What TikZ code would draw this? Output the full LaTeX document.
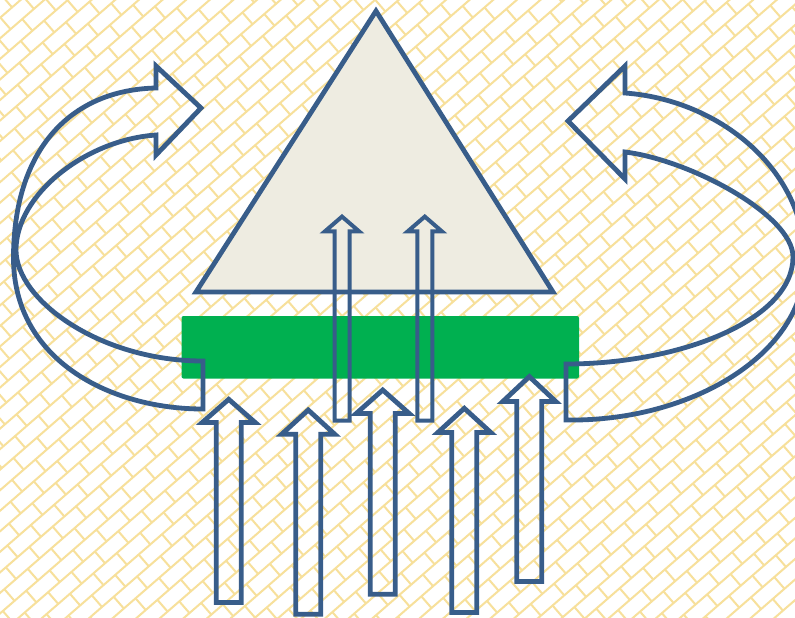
\documentclass[tikz,border=0pt]{standalone}
\definecolor{blueline}{HTML}{385D8A}
\definecolor{trifill}{HTML}{EEECE1}
\definecolor{grn}{HTML}{00B050}
\definecolor{brickcol}{RGB}{247,224,155}
\newcommand\myuparr[6]{% cx, tip, base, bottom, shaft half, head half
  \draw ({#1-#5},#4) -- ({#1-#5},#3) -- ({#1-#6},#3) -- (#1,#2) -- ({#1+#6},#3) -- ({#1+#5},#3) -- ({#1+#5},#4) -- cycle;}
\begin{document}
\begin{tikzpicture}[x=1pt,y=-1pt,
  outl/.style={draw=blueline, line width=4.8pt, line join=miter},
  thinoutl/.style={draw=blueline, line width=4pt, line join=miter}]
\useasboundingbox (0,0) rectangle (795,618);
\fill[white] (0,0) rectangle (795,618);
% background brick pattern
\begin{scope}
  \clip (0,0) rectangle (795,618);
  \begin{scope}[shift={(397.5,309)}, rotate=41, draw=brickcol, line width=2pt]
    \foreach \k in {-34,...,34} \draw (-540,15.5*\k) -- (540,15.5*\k);
    \foreach \m in {-36,...,36} {
      \pgfmathsetmacro\ph{mod(\m+100,2)*15.5}
      \draw[dash pattern=on 15.5pt off 15.5pt, dash phase=\ph pt] (15.5*\m,-527) -- (15.5*\m,540);
    }
  \end{scope}
\end{scope}
% triangle
\draw[outl, fill=trifill] (376,11) coordinate (apex) -- (553,292) coordinate (br) -- (196,292) coordinate (bl) -- cycle;
% green bar
\fill[grn, rounded corners=2pt] (181.5,316) rectangle (579,378.5);
% thin arrows through the bar
\begin{scope}[thinoutl]
  \myuparr{342}{216.6}{231.3}{420.7}{7.5}{17}
  \myuparr{424.8}{216.6}{231.3}{420.7}{7.5}{17}
\end{scope}
% bottom arrows
\begin{scope}[outl]
  \myuparr{228.7}{399.3}{422.5}{602.5}{12.5}{26.5}
  \myuparr{308.2}{410}{434.2}{614.2}{12.5}{26.5}
  \myuparr{382.7}{390}{413.5}{594.2}{12.5}{26.5}
  \myuparr{464.3}{408.3}{432.5}{612.5}{12.5}{26.5}
  \myuparr{529.3}{376.6}{401.5}{581.5}{12.5}{26.5}
\end{scope}
% left curved arrow
\draw[outl] (203,361) -- (203,409) .. controls (110,409) and (13.5,360) .. (13.5,258)
  .. controls (13.5,150) and (70,90) .. (156,88) -- (156,66) -- (201,108) -- (156,155) -- (156,135)
  .. controls (85,140) and (16,195) .. (16,250) .. controls (16,300) and (100,361) .. (203,361) -- cycle;
% right curved arrow
\draw[outl] (566,364) -- (566,420) .. controls (690,422) and (805,355) .. (805,262)
  .. controls (805,170) and (720,100) .. (625,93) -- (625,66) -- (568,121) -- (625,179) -- (625,152)
  .. controls (690,160) and (793,215) .. (793,257) .. controls (793,320) and (680,364) .. (566,364) -- cycle;
\end{tikzpicture}
\end{document}
